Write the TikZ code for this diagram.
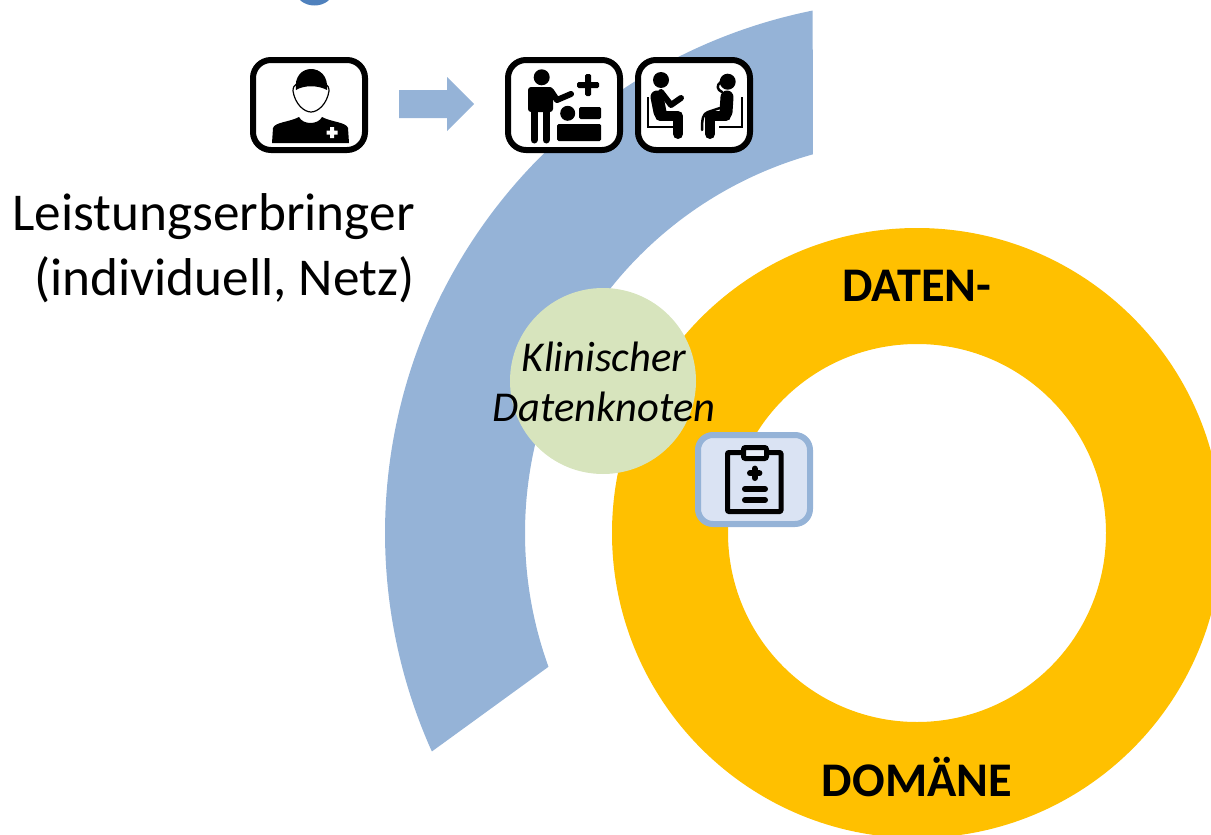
\documentclass[tikz,border=0pt]{standalone}
\usepackage{fontspec}
\setmainfont{Carlito}
\usetikzlibrary{calc}
\definecolor{bandblue}{HTML}{95B3D7}
\definecolor{blobblue}{HTML}{4F81BD}
\definecolor{ringyellow}{HTML}{FFC000}
\definecolor{knotgreen}{HTML}{D7E4BD}
\definecolor{iconfill}{HTML}{DAE3F3}
\tikzset{
  iconbox/.style={draw, line width=6*0.02cm, rounded corners=0.36cm, fill=white},
  limb/.style={draw, line cap=round, line join=round},
  biglabel/.style={font=\fontsize{30.3}{36}\selectfont, inner sep=0},
  ringlabel/.style={font=\fontsize{27.5}{33}\selectfont\bfseries, inner sep=0},
  knotlabel/.style={font=\fontsize{24.2}{29}\selectfont\itshape, inner sep=0}
}

\begin{document}
\begin{tikzpicture}[x=0.02cm,y=0.02cm,yscale=-1]
  \useasboundingbox (0,0) rectangle (1211,835);
  \clip (0,0) rectangle (1211,835);
  % blue band and blob on top
  \fill[blobblue] (314.5,-10) ellipse (19 and 15.5);
  \fill[bandblue] (918,533) ++(258.6:533) arc (258.6:155.8:533)
    -- ($(918,533)+(160.1:393)$) arc (160.1:254.5:393) -- cycle;
  % yellow ring
  \fill[ringyellow, even odd rule] (917,533) circle (305) (917,533) circle (189);
  % data node
  \node[circle, fill=knotgreen, minimum size=186*0.02cm, inner sep=0] (knot) at (603,381) {};
  \node[knotlabel] (knotA) at (604,357) {Klinischer};
  \node[knotlabel] (knotB) at (604,407) {Datenknoten};
  % ring and side labels
  \node[ringlabel] (daten) at (917,286) {DATEN-};
  \node[ringlabel] (domaene) at (917,777) {DOMÄNE};
  \node[biglabel, anchor=base east] (provider) at (415,230) {Leistungserbringer};
  \node[biglabel, anchor=base east] (network) at (415,295) {(individuell, Netz)};
  % arrow
  \fill[bandblue] (399,90) -- (447,90) -- (447,77) -- (474,104) -- (447,131)
    -- (447,118) -- (399,118) -- cycle;
  % boxes
  \draw[iconbox] (253,60) rectangle (365,150);
  \draw[iconbox] (508,60) rectangle (620,150);
  \draw[iconbox] (638,60) rectangle (750,150);
  % provider
  \fill (272,143) -- (273,128) .. controls (275,122) and (290,122) .. (299,117)
    .. controls (303,125) and (318,125) .. (322,117)
    .. controls (331,122) and (346,122) .. (348,128) -- (349,143) -- cycle;
  \draw[fill=white, line width=1.2*0.02cm] (293,91) .. controls (293,84) and (297,82) .. (311,82)
    .. controls (325,82) and (329,84) .. (329,91)
    .. controls (327,104) and (318,112) .. (311,112)
    .. controls (304,112) and (295,104) .. (293,91) -- cycle;
  \fill (296,90) .. controls (292,62) and (330,62) .. (327,90)
    .. controls (318,85) and (304,85) .. (296,90) -- cycle;
  \fill[white] (330,127) rectangle (334,138) (326.5,130.5) rectangle (337.5,134.5);
  % doctor at bed
  \fill (541.7,77.3) circle (8);
  \fill[rounded corners=3*0.02cm] (528,87) rectangle (553,112);
  \draw[limb, line width=7*0.02cm] (534,105) -- (534,140) (546,105) -- (546,140);
  \draw[limb, line width=6*0.02cm] (551,91) -- (557,100) -- (571,94);
  \fill[rounded corners=1.5*0.02cm] (585,74) rectangle (591,96);
  \fill[rounded corners=1.5*0.02cm] (577,82) rectangle (599,88);
  \fill (567.7,113.3) circle (7.5);
  \fill[rounded corners=1.5*0.02cm] (579,107) rectangle (601,119);
  \fill[rounded corners=1.5*0.02cm] (557,124) rectangle (601,141);
  % two persons
  \foreach \px/\py in {661/80, 727.7/81.7} {
    \fill (\px,\py) circle (8);
  }
  \draw[limb, line width=13*0.02cm] (657,97) -- (660,112);
  \draw[limb, line width=10*0.02cm] (660,116) -- (678,116) -- (678,134);
  \draw[limb, line width=6*0.02cm] (661,92) -- (671,105) -- (681,98);
  \draw[line width=2.5*0.02cm] (648,97) -- (648,127) -- (673,127);
  \draw[limb, line width=13*0.02cm] (727,97) -- (726,112);
  \draw[limb, line width=10*0.02cm] (726,116) -- (710,116) -- (710,134);
  \draw[line width=2.5*0.02cm] (742,97) -- (742,127) -- (719,127);
  \draw[limb, line width=2.5*0.02cm] (720,108) -- (708,112) .. controls (703,114) and (702,118) .. (702,130);
  \draw[limb, line width=2.5*0.02cm] (721,82) .. controls (716,85) and (717,90) .. (722,92);
  % clipboard icon
  \draw[line width=6*0.02cm, draw=bandblue, fill=iconfill, rounded corners=0.3cm] (698,435) rectangle (810,524);
  \draw[line width=5*0.02cm, fill=iconfill, rounded corners=1*0.02cm, line join=round] (727.5,452.5) rectangle (781,511.5);
  \draw[line width=5*0.02cm, fill=iconfill!60, rounded corners=2*0.02cm] (743.5,447.5) rectangle (766.5,458.5);
  \draw[limb, line width=6*0.02cm] (750,473.3) -- (759.4,473.3) (754.7,468.6) -- (754.7,478);
  \draw[limb, line width=6*0.02cm] (745,489) -- (765,489) (745,500) -- (765,500);
\end{tikzpicture}
\end{document}
